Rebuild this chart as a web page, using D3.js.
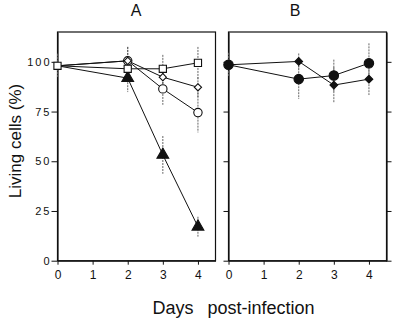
<!DOCTYPE html>
<html>
<head>
<meta charset="utf-8">
<script src="https://cdn.jsdelivr.net/npm/d3@7"></script>
<style>
  body { margin: 0; background: #fff; }
  text { font-family: "Liberation Sans", Arial, Helvetica, sans-serif; fill: #111; }
</style>
</head>
<body>
<div id="chart"></div>
<script>
let w = 400;
let h = 324;

// data
let days = [0, 2, 3, 4];
let yTicks = [0, 25, 50, 75, 100];
let xTicks = [0, 1, 2, 3, 4];

// panel A
let aSquare = [98, 96.5, 96.5, 99.5];
let aSquareErr = [6, 3, 7, 8];
let aDiamond = [98, 100.5, 92.3, 87.2];
let aDiamondErr = [6, 7, 5, 5];
let aCircle = [98, 100.5, 86.4, 74.5];
let aCircleErr = [6, 7, 8, 10];
let aTriangle = [98, 91.8, 53.2, 17.1];
let aTriangleErr = [6, 7, 9.5, 5];

// panel B
let bCircle = [98.5, 91.3, 93.1, 99.3];
let bCircleErr = [6, 10, 8, 10];
let bDiamond = [98.5, 100.2, 88.3, 91.3];
let bDiamondErr = [6, 4, 9, 8];

let viz = d3.select("#chart")
  .append("svg")
  .attr("width", w)
  .attr("height", h);

let yScale = d3.scaleLinear().domain([0, 115]).range([260.7, 32]);
let xA = d3.scaleLinear().domain([0, 4.5]).range([57.5, 215.5]);
let xB = d3.scaleLinear().domain([0, 4.5]).range([228.5, 386.5]);

// frames
function frame(x) {
  viz.append("rect")
    .attr("x", x(0))
    .attr("y", yScale(115))
    .attr("width", x(4.5) - x(0))
    .attr("height", yScale(0) - yScale(115))
    .attr("fill", "none")
    .attr("stroke", "#111")
    .attr("stroke-width", 1.2);
}
frame(xA);
frame(xB);

// y axes
let yAxisA = viz.append("g")
  .attr("transform", "translate(" + xA(0) + ",0)")
  .call(d3.axisLeft(yScale).tickValues(yTicks).tickSize(6).tickPadding(2).tickSizeOuter(0));
yAxisA.selectAll("text")
  .style("font-size", "11px")
  .style("letter-spacing", "2px")
  .attr("dx", "2px");

viz.append("g")
  .attr("transform", "translate(" + xB(0) + ",0)")
  .call(d3.axisLeft(yScale).tickValues(yTicks).tickSize(5).tickFormat("").tickSizeOuter(0));
viz.append("g")
  .attr("transform", "translate(" + xB(4.5) + ",0)")
  .call(d3.axisRight(yScale).tickValues(yTicks).tickSize(5).tickFormat("").tickSizeOuter(0));

// x axes
[xA, xB].forEach(function(x) {
  let g = viz.append("g")
    .attr("transform", "translate(0," + yScale(0) + ")")
    .call(d3.axisBottom(x).tickValues(xTicks).tickFormat(d3.format("d"))
      .tickSize(4).tickPadding(6).tickSizeOuter(0));
  g.selectAll("text").style("font-size", "12px");
});
viz.selectAll(".domain").attr("stroke", "#111").attr("stroke-width", 1.2);
viz.selectAll(".tick line").attr("stroke", "#111");

let line = function(x) {
  return d3.line()
    .x(function(d) { return x(d.day); })
    .y(function(d) { return yScale(d.v); });
};

function series(x, vals, errs) {
  let pts = days.map(function(d, i) { return { day: d, v: vals[i], e: errs[i] }; });
  viz.append("path")
    .datum(pts)
    .attr("d", line(x))
    .attr("fill", "none")
    .attr("stroke", "#111")
    .attr("stroke-width", 1);
  viz.selectAll(null).data(pts).enter()
    .append("line")
    .attr("x1", function(d) { return x(d.day); })
    .attr("x2", function(d) { return x(d.day); })
    .attr("y1", function(d) { return yScale(d.v + d.e); })
    .attr("y2", function(d) { return yScale(d.v - d.e); })
    .attr("stroke", "#555")
    .attr("stroke-width", 0.9)
    .attr("stroke-dasharray", "2,1");
  return pts;
}

function marks(x, pts, shape, size, filled, rot) {
  viz.selectAll(null).data(pts).enter()
    .append("path")
    .attr("d", d3.symbol().type(shape).size(size))
    .attr("transform", function(d) {
      return "translate(" + x(d.day) + "," + yScale(d.v) + ") rotate(" + rot + ")";
    })
    .attr("fill", filled ? "#111" : "#fff")
    .attr("stroke", "#111")
    .attr("stroke-width", 1.1);
}

let sA1 = series(xA, aTriangle, aTriangleErr);
let sA2 = series(xA, aCircle, aCircleErr);
let sA3 = series(xA, aDiamond, aDiamondErr);
let sA4 = series(xA, aSquare, aSquareErr);
marks(xA, sA1.slice(1), d3.symbolTriangle, 60, true, 0);
marks(xA, sA2.slice(1), d3.symbolCircle, 55, false, 0);
marks(xA, sA3.slice(1), d3.symbolSquare, 26, false, 45);
marks(xA, sA4, d3.symbolSquare, 52, false, 0);

let sB1 = series(xB, bCircle, bCircleErr);
let sB2 = series(xB, bDiamond, bDiamondErr);
marks(xB, sB2, d3.symbolSquare, 30, true, 45);
marks(xB, sB1, d3.symbolCircle, 70, true, 0);

// titles
viz.append("text").attr("x", 136).attr("y", 16).attr("text-anchor", "middle")
  .style("font-size", "16px").text("A");
viz.append("text").attr("x", 295).attr("y", 16).attr("text-anchor", "middle")
  .style("font-size", "16px").text("B");

// axis labels
viz.append("text")
  .attr("transform", "translate(21,141) rotate(-90)")
  .attr("text-anchor", "middle")
  .style("font-size", "17px")
  .text("Living cells (%)");

let xl = viz.append("text").attr("y", 314).style("font-size", "18px");
xl.append("tspan").attr("x", 152.5).text("Days");
xl.append("tspan").attr("x", 207.5).text("post-infection");
</script>
</body>
</html>
